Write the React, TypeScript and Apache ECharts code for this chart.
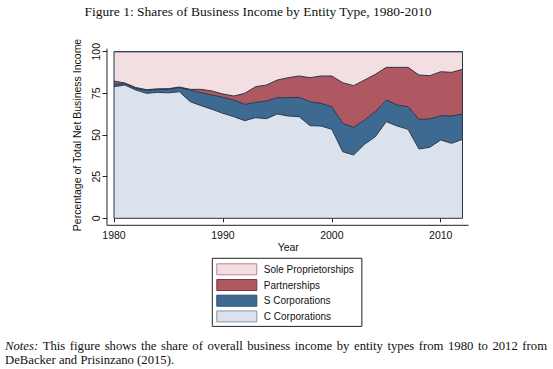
import React, { useEffect, useRef } from "react";
import * as echarts from "echarts";

// ---- data (shares, percent) ----
const years = [
  1980, 1981, 1982, 1983, 1984, 1985, 1986, 1987, 1988, 1989, 1990,
  1991, 1992, 1993, 1994, 1995, 1996, 1997, 1998, 1999, 2000,
  2001, 2002, 2003, 2004, 2005, 2006, 2007, 2008, 2009, 2010, 2011, 2012,
];
const cCorporations = [
  79, 80, 77, 75, 75.6, 75.3, 76, 70, 67.6, 65.4, 63,
  61, 58.6, 60.4, 59.8, 62.6, 61.4, 61, 55.6, 55.4, 53.4,
  40, 38, 44.4, 49, 58, 55.4, 53.4, 41.6, 42.6, 47, 45, 47.4,
];
const sCorporations = [
  1.4, 0.8, 1.0, 1.8, 1.7, 2.1, 2.4, 7, 7.8, 8.6, 9.6,
  10, 9.8, 9.2, 10.6, 9.8, 11, 11.6, 14.4, 13.6, 13.6,
  17, 16.6, 14.6, 15, 13, 12.6, 13.6, 17.8, 17, 14.6, 16.4, 15.2,
];
const partnerships = [
  2.0, 0.4, 0.5, 0.4, 0.4, 0.4, 0.4, 0.4, 2, 2.4, 2,
  2.4, 6.6, 9.4, 9.6, 10.6, 12, 12.8, 14.4, 16.4, 18.4,
  24.4, 25, 24, 22.4, 19.6, 22.6, 23.6, 26.6, 26, 26.4, 26.2, 26.8,
];
const soleProprietorships = [
  17.6, 18.8, 21.5, 22.8, 22.3, 22.2, 21.2, 22.6, 22.6, 23.6, 25.4,
  26.6, 25, 21, 20, 17, 15.6, 14.6, 15.6, 14.6, 14.6,
  18.6, 20.4, 17, 13.6, 9.4, 9.4, 9.4, 14, 14.4, 12, 12.4, 10.6,
];
const xTickYears = [1980, 1990, 2000, 2010];
const seriesNames = ["C Corporations", "S Corporations", "Partnerships", "Sole Proprietorships"];
const legendOrder = ["Sole Proprietorships", "Partnerships", "S Corporations", "C Corporations"];

const TITLE = "Figure 1: Shares of Business Income by Entity Type, 1980-2010";
const NOTE_LABEL = "Notes:";
const NOTE_1 =
  "This figure shows the share of overall business income by entity types from 1980 to 2012 from";
const NOTE_2 = "DeBacker and Prisinzano (2015).";

// ---- styles ----
const FILL: Record<string, string> = {
  "Sole Proprietorships": "#f3dfe1",
  Partnerships: "#b05862",
  "S Corporations": "#3e6a92",
  "C Corporations": "#dbe2eb",
};
const SWATCH_BORDER: Record<string, string> = {
  "Sole Proprietorships": "#b9858c",
  Partnerships: "#7e3540",
  "S Corporations": "#284d6e",
  "C Corporations": "#8796a8",
};
const EDGE = "#27364a";
const AX = "#222";
const SANS = "'Liberation Sans', Arial, Helvetica, sans-serif";
const SERIF = "'Liberation Serif', 'Times New Roman', serif";
const NOTE_SIZE = 12.7;

function measure(text: string, font: string): number {
  const c = document.createElement("canvas").getContext("2d");
  if (!c) return text.length * 6;
  c.font = font;
  return c.measureText(text).width;
}

export default function App() {
  const ref = useRef<HTMLDivElement>(null);
  useEffect(() => {
    if (!ref.current) return;
    const chart = echarts.init(ref.current, undefined, { renderer: "svg" });
    const valuesByName: Record<string, number[]> = {
      "C Corporations": cCorporations,
      "S Corporations": sCorporations,
      Partnerships: partnerships,
      "Sole Proprietorships": soleProprietorships,
    };
    const cats = years.map(String);
    const isTick = (i: number) => xTickYears.includes(years[i]);
    const series = seriesNames.map((name, k) => ({
      name,
      type: "line",
      stack: "total",
      data: valuesByName[name],
      symbol: "none",
      showSymbol: false,
      silent: true,
      z: 10 - k,
      lineStyle: { color: EDGE, width: 1 },
      itemStyle: { color: FILL[name] },
      areaStyle: { color: FILL[name], opacity: 1 },
    }));
    chart.setOption({
      animation: false,
      backgroundColor: "#fff",
      grid: { left: 114, right: 90.5, top: 51.7, bottom: 150.7, containLabel: false },
      xAxis: {
        type: "category",
        data: cats,
        boundaryGap: false,
        offset: 7,
        axisLine: { show: false },
        axisTick: {
          show: true,
          length: 4,
          interval: (i: number) => isTick(i),
          lineStyle: { color: AX, width: 1 },
        },
        axisLabel: {
          fontSize: 10.5,
          fontFamily: SANS,
          color: "#111",
          margin: 4.5,
          interval: (i: number) => isTick(i),
        },
        splitLine: { show: false },
        name: "Year",
        nameLocation: "middle",
        nameGap: 14.5,
        nameTextStyle: { fontSize: 10.5, fontFamily: SANS, color: "#111" },
      },
      yAxis: {
        type: "value",
        min: 0,
        max: 100,
        interval: 25,
        offset: 7,
        axisLine: { show: false },
        axisTick: { show: true, length: 4.5, lineStyle: { color: AX, width: 1 } },
        axisLabel: { rotate: 90, fontSize: 10.5, fontFamily: SANS, color: "#111", margin: 6 },
        splitLine: { show: false },
        name: "Percentage of Total Net Business Income",
        nameLocation: "middle",
        nameGap: 13,
        nameTextStyle: { fontSize: 10.5, fontFamily: SANS, color: "#111" },
      },
      legend: {
        orient: "vertical",
        left: 212.3,
        top: 258.3,
        padding: [5, 8, 4, 4],
        itemWidth: 40,
        itemHeight: 11,
        itemGap: 3.7,
        icon: "rect",
        selectedMode: false,
        borderColor: "#222",
        borderWidth: 1,
        backgroundColor: "#fff",
        textStyle: { fontSize: 10, fontFamily: SANS, color: "#111", padding: [0, 0, 0, 2] },
        data: legendOrder.map((name) => ({
          name,
          itemStyle: { color: FILL[name], borderColor: SWATCH_BORDER[name], borderWidth: 1 },
        })),
      },
      series,
    });

    const tl = chart.convertToPixel({ gridIndex: 0 }, ["1980", 100]) as number[];
    const br = chart.convertToPixel({ gridIndex: 0 }, ["2012", 0]) as number[];
    const axX = tl[0] - 7;
    const axY = br[1] + 7;

    // justified first note line: lay out words across the full text width
    const left = 5;
    const right = 547;
    const fontR = `${NOTE_SIZE}px ${SERIF}`;
    const fontI = `italic ${NOTE_SIZE}px ${SERIF}`;
    const words = [NOTE_LABEL, ...NOTE_1.split(" ")];
    const widths = words.map((w, i) => measure(w, i === 0 ? fontI : fontR));
    const total = widths.reduce((a, b) => a + b, 0);
    const gap = (right - left - total) / (words.length - 1);
    let cx = left;
    const noteWords = words.map((w, i) => {
      const el = {
        type: "text",
        z: 50,
        silent: true,
        x: cx,
        y: 346,
        style: {
          text: w,
          font: i === 0 ? fontI : fontR,
          fill: "#111",
          textVerticalAlign: "middle",
        },
      };
      cx += widths[i] + gap;
      return el;
    });

    chart.setOption({
      graphic: [
        {
          type: "rect",
          z: 50,
          silent: true,
          shape: { x: tl[0], y: tl[1], width: br[0] - tl[0], height: br[1] - tl[1] },
          style: { fill: "none", stroke: EDGE, lineWidth: 1 },
        },
        {
          type: "line",
          z: 50,
          silent: true,
          shape: { x1: axX, y1: tl[1] - 3, x2: axX, y2: axY },
          style: { stroke: AX, lineWidth: 1 },
        },
        {
          type: "line",
          z: 50,
          silent: true,
          shape: { x1: axX, y1: axY, x2: br[0] + 6, y2: axY },
          style: { stroke: AX, lineWidth: 1 },
        },
        {
          type: "text",
          z: 50,
          x: 258,
          y: 11,
          style: {
            text: TITLE,
            font: `13.5px ${SERIF}`,
            fill: "#111",
            textAlign: "center",
            textVerticalAlign: "middle",
          },
        },
        ...noteWords,
        {
          type: "text",
          z: 50,
          x: left,
          y: 360,
          style: {
            text: NOTE_2,
            font: fontR,
            fill: "#111",
            textVerticalAlign: "middle",
          },
        },
      ],
    });
    return () => chart.dispose();
  }, []);
  return (
    <div
      ref={ref}
      style={{ position: "fixed", left: 0, top: 0, width: 553, height: 369 }}
    />
  );
}
